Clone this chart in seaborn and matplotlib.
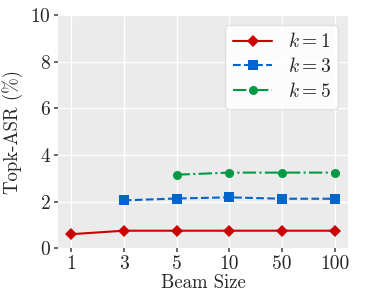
import pandas as pd
import matplotlib
matplotlib.use("Agg")
import matplotlib.pyplot as plt
import seaborn as sns

beam_sizes = ["1", "3", "5", "10", "50", "100"]
k1_asr = [0.60, 0.75, 0.75, 0.75, 0.75, 0.75]
k3_asr = [None, 2.05, 2.13, 2.18, 2.12, 2.12]
k5_asr = [None, None, 3.15, 3.24, 3.24, 3.24]
series_labels = [r"$k=1$", r"$k=3$", r"$k=5$"]

sns.set_theme(style="darkgrid", rc={"axes.facecolor": "#ebebeb", "grid.color": "white"})
plt.rcParams["font.family"] = ["cmr10", "DejaVu Serif"]
plt.rcParams["mathtext.fontset"] = "cm"
plt.rcParams["axes.formatter.use_mathtext"] = True

rows = []
for lab, vals in zip(series_labels, [k1_asr, k3_asr, k5_asr]):
    for i, v in enumerate(vals):
        if v is not None:
            rows.append({"pos": i, "asr": v, "k": lab})
df = pd.DataFrame(rows)

fig, ax = plt.subplots(figsize=(3.66, 2.92), dpi=100)
styles = {
    series_labels[0]: ("#cc0000", "D", "-"),
    series_labels[1]: ("#0066cc", "s", "--"),
    series_labels[2]: ("#009944", "o", "-."),
}
for lab in series_labels:
    color, marker, ls = styles[lab]
    sub = df[df["k"] == lab]
    sns.lineplot(data=sub, x="pos", y="asr", ax=ax, color=color, marker=marker,
                 linestyle=ls, markersize=6.5, markeredgewidth=0, linewidth=1.5, label=lab)

ax.set_xticks(range(len(beam_sizes)))
ax.set_xticklabels(beam_sizes)
ax.set_xlim(-0.25, 5.25)
ax.set_ylim(0, 10)
ax.set_yticks([0, 2, 4, 6, 8, 10])
ax.tick_params(labelsize=14, length=3, color="#555555", left=True, bottom=True, pad=2)
ax.set_xlabel("Beam Size", fontsize=13.5, labelpad=1)
ax.set_ylabel("Topk-ASR (%)", fontsize=13.5, labelpad=5)
for s in ax.spines.values():
    s.set_visible(False)
leg = ax.legend(loc="upper right", fontsize=14, frameon=True, facecolor="white",
                framealpha=0.9, handlelength=2.0, borderpad=0.4, labelspacing=0.3,
                handletextpad=0.8)
leg.get_frame().set_edgecolor("#dddddd")

fig.subplots_adjust(left=0.158, right=0.951, top=0.949, bottom=0.15)
fig.savefig("out.png", dpi=100)
